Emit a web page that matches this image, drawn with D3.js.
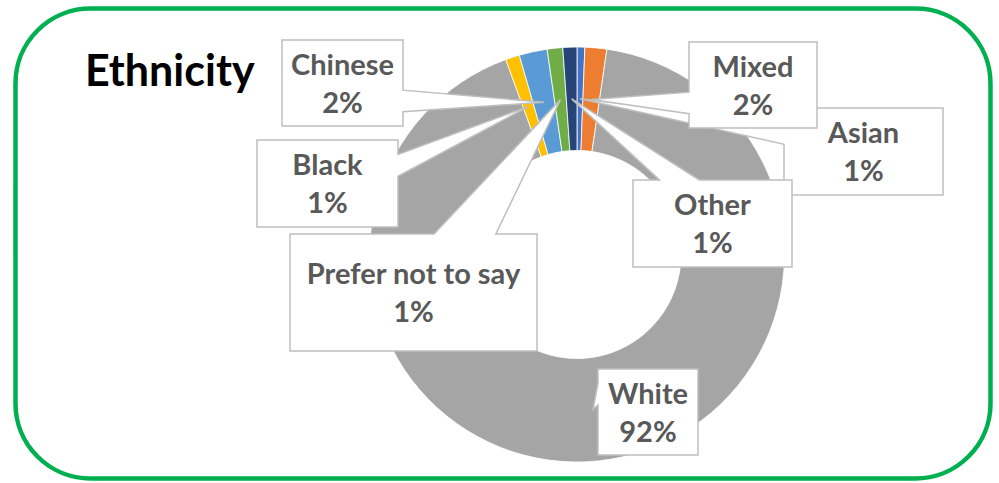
<!DOCTYPE html>
<html>
<head>
<meta charset="utf-8">
<script src="https://cdn.jsdelivr.net/npm/d3@7"></script>
<style>
  html, body { margin: 0; padding: 0; background: #ffffff; }
  svg { display: block; }
</style>
</head>
<body>
<script>
// Respondents by ethnicity (counts), in series order
const categories = ["Asian", "Mixed", "White", "Black", "Chinese", "Prefer not to say", "Other"];
const counts = [5, 14, 760, 9, 18, 10, 9];
const colors = ["#4472C4", "#ED7D31", "#A5A5A5", "#FFC000", "#5B9BD5", "#70AD47", "#264478"];
const title = "Ethnicity";

// Callout box placement for each label: [x, y, width, height]
const calloutBoxes = {
  "Asian": [784, 108, 159, 87],
  "Mixed": [689, 42, 128, 86],
  "White": [598, 369, 100, 86],
  "Black": [257, 140, 141, 87],
  "Chinese": [282, 40, 121, 86],
  "Prefer not to say": [290, 234, 247, 117],
  "Other": [633, 180, 159, 87]
};

const W = 999, H = 483;
const cx = 577, cy = 254.5, outerR = 207.5, innerR = 104;

const svg = d3.select("body").append("svg")
  .attr("width", W).attr("height", H)
  .attr("viewBox", `0 0 ${W} ${H}`);

// Rounded green frame
svg.append("rect")
  .attr("x", 15.5).attr("y", 8.5)
  .attr("width", 975).attr("height", 470)
  .attr("rx", 75).attr("ry", 75)
  .attr("fill", "#ffffff")
  .attr("stroke", "#00B050")
  .attr("stroke-width", 4.5);

svg.append("text")
  .attr("x", 85).attr("y", 86)
  .attr("font-family", "Lato, 'Open Sans', sans-serif")
  .attr("font-weight", "bold")
  .attr("font-size", 43)
  .attr("fill", "#000000")
  .text(title);

const data = categories.map((c, i) => ({ name: c, value: counts[i], color: colors[i] }));
const total = d3.sum(counts);
const fmtPct = v => Math.round(v / total * 100) + "%";

const pie = d3.pie().value(d => d.value).sort(null).startAngle(0).endAngle(2 * Math.PI);
const arcs = pie(data);
const arc = d3.arc().innerRadius(innerR).outerRadius(outerR);

const g = svg.append("g").attr("transform", `translate(${cx},${cy})`);
g.selectAll("path.slice")
  .data(arcs)
  .join("path")
  .attr("class", "slice")
  .attr("d", arc)
  .attr("fill", d => d.data.color)
  .attr("stroke", "#ffffff")
  .attr("stroke-width", 0.8);

// Rectangular callout with a wedge pointing at (px, py)
function wedgeRectCallout(x, y, w, h, px, py) {
  const l = x, t = y, r = x + w, b = y + h;
  const hc = x + w / 2, vc = y + h / 2;
  const dxPos = px - hc, dyPos = py - vc;
  const dq = dxPos * h / w;
  const dz = Math.abs(dyPos) - Math.abs(dq);
  const x1 = x + w * (dxPos > 0 ? 7 : 2) / 12;
  const x2 = x + w * (dxPos > 0 ? 10 : 5) / 12;
  const y1 = y + h * (dyPos > 0 ? 7 : 2) / 12;
  const y2 = y + h * (dyPos > 0 ? 10 : 5) / 12;
  const xl = dz > 0 ? l : (dxPos > 0 ? l : px);
  const yl = dz > 0 ? y1 : (dxPos > 0 ? y1 : py);
  const xt = dz > 0 ? (dyPos > 0 ? x1 : px) : x1;
  const yt = dz > 0 ? (dyPos > 0 ? t : py) : t;
  const xr = dz > 0 ? r : (dxPos > 0 ? px : r);
  const yr = dz > 0 ? y1 : (dxPos > 0 ? py : y1);
  const xb = dz > 0 ? (dyPos > 0 ? px : x1) : x1;
  const yb = dz > 0 ? (dyPos > 0 ? py : b) : b;
  const p = d3.path();
  p.moveTo(l, t);
  p.lineTo(x1, t); p.lineTo(xt, yt); p.lineTo(x2, t); p.lineTo(r, t);
  p.lineTo(r, y1); p.lineTo(xr, yr); p.lineTo(r, y2); p.lineTo(r, b);
  p.lineTo(x2, b); p.lineTo(xb, yb); p.lineTo(x1, b); p.lineTo(l, b);
  p.lineTo(l, y2); p.lineTo(xl, yl); p.lineTo(l, y1);
  p.closePath();
  return p.toString();
}

const labels = svg.append("g");
arcs.forEach(d => {
  const [bx, by, bw, bh] = calloutBoxes[d.data.name];
  const [tx, ty] = arc.centroid(d);
  const lg = labels.append("g");
  lg.append("path")
    .attr("d", wedgeRectCallout(bx, by, bw, bh, cx + tx, cy + ty))
    .attr("fill", "#ffffff")
    .attr("stroke", "#BFBFBF")
    .attr("stroke-width", 1.5)
    .attr("stroke-linejoin", "miter");
  const mx = bx + bw / 2, my = by + bh / 2;
  const t = lg.append("text")
    .attr("text-anchor", "middle")
    .attr("font-family", "Lato, 'Open Sans', sans-serif")
    .attr("font-weight", "bold")
    .attr("font-size", 29)
    .attr("fill", "#595959");
  t.append("tspan").attr("x", mx).attr("y", my - 8.5).text(d.data.name);
  t.append("tspan").attr("x", mx).attr("y", my + 29.5).text(fmtPct(d.data.value));
});
</script>
</body>
</html>
